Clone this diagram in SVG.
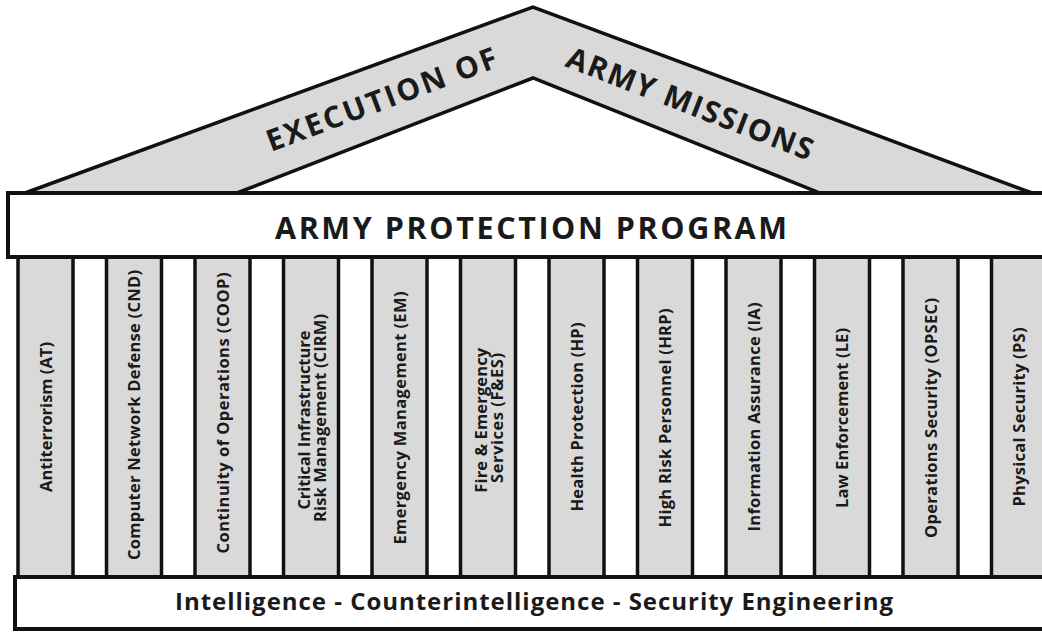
<svg xmlns="http://www.w3.org/2000/svg" width="1042" height="632" viewBox="0 0 1042 632">
  <style>
    .shade { fill: #d9d9d9; stroke: #111; stroke-width: 3.5; stroke-linejoin: miter; }
    .plain { fill: #ffffff; stroke: #111; stroke-width: 4; }
    .lbl { font-family: "Open Sans", "Noto Sans", "DejaVu Sans", sans-serif; font-weight: 700; fill: #1a1a1a; }
    .col { font-size: 16.5px; text-anchor: middle; }
    .roof { font-size: 30px; }
  </style>
  <rect width="1042" height="632" fill="#ffffff"/>

  <!-- roof -->
  <g id="roof">
    <polygon class="shade" points="25,193 533,7 1032,193 820,193 533,78 237,193"/>
    <text class="lbl roof" transform="translate(271,152) rotate(-20.5)" textLength="244" lengthAdjust="spacing">EXECUTION OF</text>
    <text class="lbl roof" transform="translate(564,66) rotate(21.2)" textLength="262" lengthAdjust="spacing">ARMY MISSIONS</text>
  </g>

  <!-- pillars -->
  <g id="pillar-at">
    <rect class="shade" x="18" y="257" width="55" height="320"/>
    <text class="lbl col" transform="translate(46,417) rotate(-90)" y="6" textLength="150">Antiterrorism (AT)</text>
  </g>
  <g id="pillar-cnd">
    <rect class="shade" x="106.5" y="257" width="55" height="320"/>
    <text class="lbl col" transform="translate(134,415) rotate(-90)" y="6" textLength="290">Computer Network Defense (CND)</text>
  </g>
  <g id="pillar-coop">
    <rect class="shade" x="195" y="257" width="55" height="320"/>
    <text class="lbl col" transform="translate(222.5,413) rotate(-90)" y="6" textLength="281">Continuity of Operations (COOP)</text>
  </g>
  <g id="pillar-cirm">
    <rect class="shade" x="283.5" y="257" width="55" height="320"/>
    <text class="lbl col" transform="translate(311,418) rotate(-90)">
      <tspan x="0" y="-1" textLength="179">Critical Infrastructure</tspan>
      <tspan x="0" y="15" textLength="208">Risk Management (CIRM)</tspan>
    </text>
  </g>
  <g id="pillar-em">
    <rect class="shade" x="372" y="257" width="55" height="320"/>
    <text class="lbl col" transform="translate(399.5,418) rotate(-90)" y="6" textLength="253">Emergency Management (EM)</text>
  </g>
  <g id="pillar-fes">
    <rect class="shade" x="460.5" y="257" width="55" height="320"/>
    <text class="lbl col" transform="translate(488,418) rotate(-90)">
      <tspan x="0" y="-1" textLength="145">Fire &amp; Emergency</tspan>
      <tspan x="0" y="15" textLength="130">Services (F&amp;ES)</tspan>
    </text>
  </g>
  <g id="pillar-hp">
    <rect class="shade" x="549" y="257" width="55" height="320"/>
    <text class="lbl col" transform="translate(576.5,417) rotate(-90)" y="6" textLength="189">Health Protection (HP)</text>
  </g>
  <g id="pillar-hrp">
    <rect class="shade" x="637.5" y="257" width="55" height="320"/>
    <text class="lbl col" transform="translate(665,418) rotate(-90)" y="6" textLength="219">High Risk Personnel (HRP)</text>
  </g>
  <g id="pillar-ia">
    <rect class="shade" x="726" y="257" width="55" height="320"/>
    <text class="lbl col" transform="translate(753.5,417) rotate(-90)" y="6" textLength="229">Information Assurance (IA)</text>
  </g>
  <g id="pillar-le">
    <rect class="shade" x="814.5" y="257" width="55" height="320"/>
    <text class="lbl col" transform="translate(842,418) rotate(-90)" y="6" textLength="180">Law Enforcement (LE)</text>
  </g>
  <g id="pillar-opsec">
    <rect class="shade" x="903" y="257" width="55" height="320"/>
    <text class="lbl col" transform="translate(930.5,418) rotate(-90)" y="6" textLength="240">Operations Security (OPSEC)</text>
  </g>
  <g id="pillar-ps">
    <rect class="shade" x="991.5" y="257" width="60" height="320"/>
    <text class="lbl col" transform="translate(1019,417) rotate(-90)" y="6" textLength="179">Physical Security (PS)</text>
  </g>

  <!-- lintel -->
  <g id="lintel">
    <rect class="plain" x="8" y="193" width="1044" height="64"/>
    <text class="lbl" x="531" y="239" font-size="30.5" text-anchor="middle" textLength="512" lengthAdjust="spacing">ARMY PROTECTION PROGRAM</text>
  </g>

  <!-- foundation -->
  <g id="foundation">
    <rect class="plain" x="15" y="577" width="1040" height="52"/>
    <text class="lbl" x="534" y="610" font-size="24" text-anchor="middle" textLength="718" lengthAdjust="spacing">Intelligence - Counterintelligence - Security Engineering</text>
  </g>

  <g id="connectors"/>
</svg>
